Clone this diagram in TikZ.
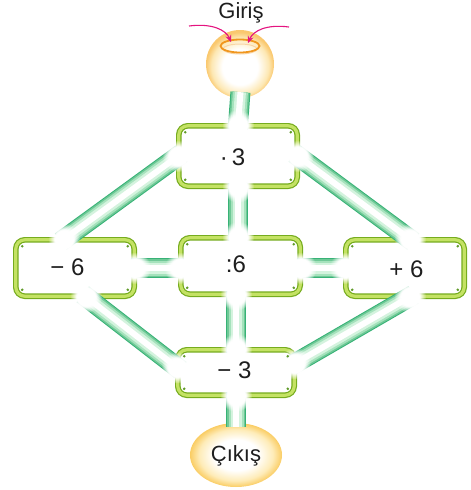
\documentclass[tikz,border=0pt]{standalone}
\usepackage{fontspec}
\setmainfont{Liberation Sans}
\usetikzlibrary{arrows.meta,shapes.geometric,fadings}

\definecolor{pipeedge}{RGB}{55,178,118}
\definecolor{pipetwo}{RGB}{110,200,150}
\definecolor{pipemid}{RGB}{165,226,188}
\definecolor{pipelight}{RGB}{212,243,222}
\definecolor{framedark}{RGB}{118,172,30}
\definecolor{frameband}{RGB}{196,226,100}
\definecolor{dotgreen}{RGB}{95,155,40}
\definecolor{ballrim}{RGB}{250,200,110}
\definecolor{ballmid}{RGB}{253,232,180}
\definecolor{ovalrim}{RGB}{250,205,100}
\definecolor{ovalmid}{RGB}{254,236,185}
\definecolor{ringorange}{RGB}{240,150,30}
\definecolor{arrowpink}{RGB}{228,20,128}
\definecolor{inktext}{RGB}{30,30,30}

% soft white spot used where a pipe meets a box
\pgfdeclareradialshading{softspotshade}{\pgfpointorigin}{%
  color(0bp)=(pgftransparent!0); color(15bp)=(pgftransparent!0);
  color(25bp)=(pgftransparent!100); color(50bp)=(pgftransparent!100)}
\pgfdeclarefading{softspot}{\pgfuseshading{softspotshade}}

% shading of the entry ball and of the exit oval
\pgfdeclareradialshading{ballshade}{\pgfpoint{0bp}{-3bp}}{%
  color(0bp)=(white); color(13bp)=(white); color(21bp)=(ballmid);
  color(25bp)=(ballrim); color(50bp)=(ballrim)}
\pgfdeclareradialshading{ovalshade}{\pgfpointorigin}{%
  color(0bp)=(white); color(12bp)=(white); color(20bp)=(ovalmid);
  color(25bp)=(ovalrim); color(50bp)=(ovalrim)}

\begin{document}
\begin{tikzpicture}[x=1pt,y=-1pt,
  opbox/.style={rectangle, rounded corners=9pt, draw=framedark,
    double=frameband, double distance=3.2pt, line width=1.2pt,
    fill=white, inner sep=0pt},
  optext/.style={anchor=base, inner sep=0pt, text=inktext,
    font=\fontsize{24}{27}\selectfont},
  endtext/.style={anchor=base, inner sep=0pt, text=inktext,
    font=\fontsize{22}{25}\selectfont},
  pipe/.style={line width=20pt, draw=pipeedge, line cap=butt,
    postaction={draw=pipetwo, line width=18pt},
    postaction={draw=pipemid, line width=15pt},
    postaction={draw=pipelight, line width=11pt},
    postaction={draw=white, line width=6pt}},
  spot/.style={fill=white, path fading=softspot},
  pinkarrow/.style={draw=arrowpink, line width=1.1pt,
    -{Stealth[length=7pt,width=6pt]}}]

\useasboundingbox (0,0) rectangle (471,490);

% entry ball and exit oval
\node[circle, minimum size=68pt, inner sep=0pt, shading=ballshade]
  (in) at (240,64) {};
\node[ellipse, minimum width=92pt, minimum height=64pt, inner sep=0pt,
  shading=ovalshade] (out) at (236,455) {};

% operation boxes
\node[opbox, minimum width=118.4pt, minimum height=60.4pt] (top) at (238,156) {};
\node[opbox, minimum width=118.4pt, minimum height=56.4pt] (lft) at (75,268) {};
\node[opbox, minimum width=119.4pt, minimum height=56.4pt] (mid) at (240.5,266) {};
\node[opbox, minimum width=118.4pt, minimum height=56.4pt] (rgt) at (405,268) {};
\node[opbox, minimum width=116.4pt, minimum height=45.4pt] (bot) at (236,372.5) {};

% pipe end points on the box borders
\coordinate (tN) at (top.north);
\coordinate (tS) at (top.south);
\coordinate (tW) at (top.west);
\coordinate (tE) at (top.east);
\coordinate (lN) at ([xshift=-11pt]lft.north);
\coordinate (lS) at ([xshift=11pt]lft.south);
\coordinate (lE) at (lft.east);
\coordinate (mN) at (top.south |- mid.north);
\coordinate (mS) at (bot.north |- mid.south);
\coordinate (mW) at (lft.east -| mid.west);
\coordinate (mE) at (lft.east -| mid.east);
\coordinate (rN) at ([xshift=5pt]rgt.north);
\coordinate (rS) at ([xshift=5pt]rgt.south);
\coordinate (rW) at (rgt.west);
\coordinate (bN) at (bot.north);
\coordinate (bS) at (bot.south);
\coordinate (bW) at ([yshift=5pt]bot.west);
\coordinate (bE) at ([yshift=9pt]bot.east);

% pipes between the boxes
\tikzset{into/.style={shorten <=-4pt, shorten >=-4pt}}
\draw[pipe, into] (tW) -- (lN);
\draw[pipe, into] (tE) -- (rN);
\draw[pipe, into] (tS) -- (mN);
\draw[pipe, into] (lE) -- (mW);
\draw[pipe, into] (mE) -- (rW);
\draw[pipe, into] (lS) -- (bW);
\draw[pipe, into] (rS) -- (bE);
\draw[pipe, into] (mS) -- (bN);
\draw[pipe, shorten <=-6pt, shorten >=-4pt] (in.south) -- (tN);
\draw[pipe, shorten <=-4pt, shorten >=-4pt] (bS) -- (out.north);

% pipes fade out where they enter a box
\foreach \p in {tN,tS,tW,tE,lN,lS,lE,mN,mS,mW,mE,rN,rS,rW,bN,bS,bW,bE}
  \fill[spot] (\p) circle (16pt);

% small rivets in the box corners
\foreach \b in {top,lft,mid,rgt,bot} {
  \fill[dotgreen] ([xshift=7pt,yshift=-7pt]\b.north west) circle (1.4pt);
  \fill[dotgreen] ([xshift=-7pt,yshift=-7pt]\b.north east) circle (1.4pt);
  \fill[dotgreen] ([xshift=7pt,yshift=7pt]\b.south west) circle (1.4pt);
  \fill[dotgreen] ([xshift=-7pt,yshift=7pt]\b.south east) circle (1.4pt);
}

% opening on top of the entry ball
\draw[ringorange!40, line width=1pt] ([yshift=15pt]in.center) ellipse (17 and 5);
\draw[ringorange, line width=1.8pt] ([yshift=18pt]in.center) ellipse (19.5 and 6.5);

% box labels
\node[optext] (tTxt) at (232.5,165) {·\,3};
\node[optext] (lTxt) at (67.5,275) {− 6};
\node[optext] (mTxt) at (236,272) {:6};
\node[optext] (rTxt) at (406.5,277) {+ 6};
\node[optext] (bTxt) at (234.5,378) {− 3};

% entry and exit labels
\node[endtext] (inTxt) at (241,18) {Giriş};
\node[endtext] (outTxt) at (236,461) {Çıkış};

% arrows pointing into the entry
\coordinate (aL) at (189,26);
\coordinate (aLtip) at (231,42);
\coordinate (aR) at (289,27);
\coordinate (aRtip) at (248,43);
\draw[pinkarrow] (aL) .. controls (212,23) and (226,30) .. (aLtip);
\draw[pinkarrow] (aR) .. controls (266,24) and (253,31) .. (aRtip);
\end{tikzpicture}
\end{document}
